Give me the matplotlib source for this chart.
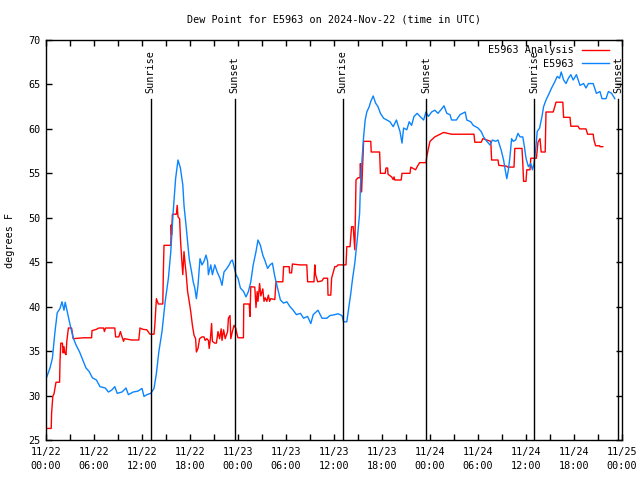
import matplotlib
matplotlib.use("Agg")
import matplotlib.pyplot as plt
from datetime import datetime, timedelta

# ---- data (hours since 2024-11-22 00:00 UTC, degrees F) ----
obs_hours = [0.1, 0.5, 0.8, 1.1, 1.4, 1.75, 2.0, 2.25, 2.4, 2.67, 2.9, 3.1, 3.4, 3.75, 4.2, 4.6,
             5.0, 5.4, 5.8, 6.3, 6.75, 7.4, 7.8, 8.2, 8.6, 8.9, 9.5, 10.0, 10.3, 10.9, 11.5, 12.0,
             12.25, 12.6, 13.1, 13.5, 13.8, 14.1, 14.5, 14.9, 15.3, 15.6, 15.9, 16.2, 16.5, 16.8,
             17.1, 17.25, 17.5, 17.7, 17.9, 18.2, 18.4, 18.6, 18.8, 19.0, 19.25, 19.5, 19.75, 20.0,
             20.2, 20.3, 20.6, 20.8, 21.1, 21.4, 21.75, 22.0, 22.25, 22.6, 22.9, 23.1, 23.3, 23.5,
             23.75, 24.0, 24.3, 24.7, 25.0, 25.3, 25.6, 25.9, 26.25, 26.5, 26.8, 27.1, 27.4, 27.7,
             28.0, 28.3, 28.6, 28.9, 29.3, 29.7, 30.1, 30.5, 30.9, 31.3, 31.8, 32.2, 32.7, 33.1,
             33.4, 34.0, 34.5, 35.1, 35.5, 36.1, 36.5, 37.0, 37.2, 37.6, 37.8, 38.1, 38.3, 38.6,
             38.9, 39.2, 39.3, 39.5, 39.7, 39.9, 40.1, 40.4, 40.6, 40.9, 41.2, 41.5, 41.8, 42.2,
             42.6, 43.0, 43.4, 43.8, 44.25, 44.5, 44.7, 45.1, 45.4, 45.7, 46.0, 46.4, 46.75, 47.2,
             47.5, 47.8, 48.2, 48.6, 49.0, 49.5, 49.75, 50.1, 50.5, 50.7, 51.3, 51.75, 52.4, 52.6,
             53.1, 53.4, 54.0, 54.4, 54.7, 55.1, 55.5, 55.8, 56.2, 56.5, 56.9, 57.2, 57.4, 57.6,
             57.8, 58.0, 58.2, 58.4, 58.7, 59.0, 59.25, 59.6, 59.8, 60.0, 60.3, 60.6, 60.8, 61.0,
             61.25, 61.4, 61.7, 62.0, 62.2, 62.5, 62.9, 63.2, 63.6, 63.9, 64.2, 64.4, 64.7, 65.0,
             65.3, 65.6, 65.9, 66.3, 66.75, 67.2, 67.5, 67.8, 68.4, 68.8, 69.25, 69.5, 70.0, 70.3,
             70.7, 71.1]
obs_values = [32.1, 33.1, 34.2, 37.0, 39.3, 39.8, 40.55, 39.6, 40.5, 39.4, 38.5, 37.6, 36.5, 35.7,
              34.9, 34.0, 33.1, 32.7, 32.0, 31.75, 31.0, 30.85, 30.4, 30.6, 31.0, 30.25, 30.4,
              30.85, 30.1, 30.4, 30.5, 30.8, 29.9, 30.1, 30.25, 30.8, 32.5, 34.9, 37.2, 40.6,
              43.2, 46.2, 50.7, 54.4, 56.5, 55.6, 53.7, 51.4, 49.2, 47.3, 45.4, 43.9, 42.8, 42.1,
              40.9, 42.4, 45.4, 44.7, 45.1, 45.8, 45.1, 43.6, 44.7, 43.6, 44.7, 43.9, 43.2, 42.4,
              43.9, 44.3, 44.7, 45.1, 45.25, 44.5, 43.6, 43.2, 42.1, 41.7, 41.1, 41.7, 42.8, 44.7,
              46.2, 47.5, 46.9, 45.8, 45.1, 44.3, 44.7, 44.9, 43.4, 42.25, 40.75, 40.4, 40.55,
              40.0, 39.6, 39.1, 39.25, 38.7, 38.9, 38.1, 39.1, 39.6, 38.7, 38.7, 39.0, 39.1, 39.2,
              39.0, 38.3, 38.3, 39.6, 41.5, 43.0, 44.9, 47.5, 50.5, 53.5, 56.5, 59.1, 61.0, 61.9,
              62.5, 63.1, 63.7, 62.9, 62.5, 61.75, 61.2, 61.0, 60.8, 60.25, 61.0, 59.7, 58.4,
              60.1, 59.9, 60.8, 60.4, 61.4, 61.75, 61.4, 61.0, 61.9, 61.4, 61.9, 62.1, 61.75,
              62.3, 62.6, 61.75, 61.6, 61.0, 61.0, 61.6, 61.9, 61.0, 60.8, 60.4, 60.1, 59.7,
              59.1, 58.6, 58.2, 58.75, 58.6, 58.75, 57.6, 56.5, 55.4, 54.4, 55.4, 56.9, 58.9,
              58.6, 58.75, 59.5, 59.1, 59.1, 58.0, 56.7, 55.75, 56.1, 55.4, 56.1, 58.0, 59.7,
              60.1, 61.4, 62.5, 63.25, 64.0, 64.6, 65.3, 65.9, 65.7, 66.4, 65.5, 65.1, 65.7,
              66.1, 65.5, 66.1, 64.9, 65.1, 64.6, 65.1, 65.1, 64.0, 64.2, 63.4, 63.4, 64.2, 64.0,
              63.4]

ana_hours = [0.0, 0.65, 0.7, 0.85, 1.0, 1.25, 1.7, 1.75, 1.85, 2.05, 2.15, 2.25, 2.35, 2.5, 2.6,
             2.8, 3.2, 3.4, 4.7, 5.7, 5.75, 6.3, 6.6, 7.2, 7.3, 7.45, 8.6, 8.7, 9.1, 9.3, 9.5,
             9.7, 9.8, 10.7, 11.6, 11.75, 12.1, 12.6, 13.0, 13.5, 13.6, 13.8, 14.04, 14.6, 14.67,
             14.75, 15.6, 15.65, 15.7, 15.8, 16.3, 16.4, 16.5, 16.7, 16.8, 16.96, 17.1, 17.25,
             17.4, 17.5, 17.7, 17.9, 18.1, 18.3, 18.5, 18.7, 18.8, 19.0, 19.2, 19.5, 19.75, 19.9,
             20.1, 20.3, 20.4, 20.55, 20.7, 20.8, 21.1, 21.3, 21.5, 21.7, 21.9, 22.0, 22.2, 22.4,
             22.7, 22.8, 23.0, 23.1, 23.3, 23.5, 23.7, 23.9, 24.0, 24.68, 24.72, 25.4, 25.5, 25.6,
             26.1, 26.25, 26.4, 26.5, 26.7, 26.85, 27.1, 27.25, 27.4, 27.6, 27.8, 27.95, 28.1,
             28.6, 28.75, 29.6, 29.7, 30.4, 30.45, 30.7, 30.8, 31.7, 32.6, 32.7, 33.5, 33.6, 33.7,
             33.96, 34.5, 34.7, 35.2, 35.25, 35.6, 35.7, 36.1, 36.3, 36.5, 37.5, 37.6, 38.0, 38.2,
             38.4, 38.5, 38.6, 38.75, 39.0, 39.25, 39.3, 39.45, 39.6, 39.7, 40.6, 40.65, 41.7,
             41.75, 41.8, 42.4, 42.5, 42.7, 42.75, 43.2, 43.4, 43.5, 43.6, 44.4, 44.5, 45.5, 45.6,
             46.2, 46.4, 46.7, 47.5, 47.6, 47.8, 48.0, 48.6, 49.7, 50.7, 53.5, 53.6, 54.4, 54.6,
             55.6, 55.7, 56.5, 56.6, 57.6, 57.7, 58.5, 58.6, 59.5, 59.6, 59.7, 60.0, 60.1, 60.5,
             60.6, 61.3, 61.4, 61.5, 61.75, 61.9, 62.4, 62.5, 63.4, 63.6, 63.75, 64.6, 64.7, 65.5,
             65.6, 66.5, 66.7, 67.5, 67.7, 68.4, 68.5, 68.7, 69.2, 69.25, 69.6]
ana_values = [26.3, 26.3, 28.0, 29.9, 30.2, 31.5, 31.5, 33.8, 35.9, 35.9, 34.8, 35.5, 34.8, 34.6,
              36.1, 37.6, 37.6, 36.4, 36.5, 36.5, 37.3, 37.45, 37.6, 37.6, 37.2, 37.6, 37.6,
              36.6, 36.6, 37.2, 36.6, 36.1, 36.4, 36.25, 36.25, 37.6, 37.45, 37.4, 36.9, 36.9,
              37.9, 40.9, 40.3, 40.3, 43.9, 46.9, 46.9, 49.2, 48.1, 50.4, 50.4, 51.4, 50.1, 49.9,
              47.7, 45.4, 43.6, 46.2, 44.7, 43.9, 41.7, 40.6, 39.4, 37.9, 36.8, 36.4, 34.9, 35.3,
              36.4, 36.6, 36.6, 36.2, 36.4, 36.2, 35.3, 36.4, 38.1, 36.1, 35.9, 35.9, 37.2, 36.4,
              37.5, 36.2, 37.4, 36.4, 37.2, 38.7, 39.0, 36.4, 37.2, 37.9, 37.6, 36.8, 36.5, 36.5,
              40.3, 40.3, 38.9, 42.25, 42.2, 39.9, 41.7, 40.6, 42.6, 41.2, 42.0, 40.6, 41.0, 40.6,
              41.3, 40.6, 40.9, 40.8, 42.8, 42.8, 44.5, 44.5, 43.8, 43.8, 44.8, 44.7, 44.7, 42.8,
              42.8, 44.7, 43.6, 42.8, 42.9, 43.2, 43.2, 41.3, 41.3, 43.2, 44.5, 44.5, 44.7, 44.7,
              46.75, 46.75, 49.0, 49.0, 47.7, 46.4, 54.25, 54.5, 54.5, 56.1, 52.9, 56.3, 58.6,
              58.6, 57.4, 57.4, 56.3, 55.0, 55.0, 55.6, 55.6, 54.9, 54.6, 54.3, 54.6, 54.25,
              54.25, 55.0, 55.0, 55.7, 55.4, 55.75, 56.2, 56.2, 56.9, 57.8, 58.6, 59.1, 59.6,
              59.4, 59.4, 58.5, 58.5, 58.9, 58.6, 56.5, 56.5, 55.9, 55.8, 55.7, 55.7, 57.8, 57.8,
              56.1, 54.1, 54.1, 55.4, 55.4, 56.7, 56.7, 57.6, 58.5, 58.9, 57.4, 57.4, 61.9, 61.9,
              62.5, 63.0, 63.0, 61.3, 61.3, 60.3, 60.3, 60.0, 60.0, 59.4, 59.4, 58.75, 58.1,
              58.1, 58.0, 58.0]

sun_events = ["Sunrise", "Sunset", "Sunrise", "Sunset", "Sunrise", "Sunset"]
sun_hours = [13.1, 23.6, 37.1, 47.5, 61.0, 71.5]

series_labels = ["E5963 Analysis", "E5963"]
title = "Dew Point for E5963 on 2024-Nov-22 (time in UTC)"
ylabel = "degrees F"
start = datetime(2024, 11, 22, 0, 0)

# ---- figure ----
FONT = "DejaVu Sans Mono"
FS = 7.3
plt.rcParams["font.family"] = FONT
plt.rcParams["font.size"] = FS

fig = plt.figure(figsize=(6.4, 4.8), dpi=100)
ax = fig.add_axes([46 / 640, 40 / 480, 576 / 640, 400 / 480])

ax.plot(ana_hours, ana_values, color="#ff0000", lw=1.0, label=series_labels[0])
ax.plot(obs_hours, obs_values, color="#0a84ff", lw=1.0, label=series_labels[1])

for h, name in zip(sun_hours, sun_events):
    ax.axvline(h, ymin=0, ymax=0.853, color="black", lw=1.0)
    ax.text(h, 0.8675, name, transform=ax.get_xaxis_transform(), rotation=90,
            ha="center", va="bottom", fontsize=FS)

ax.set_xlim(0, 72)
ax.set_ylim(25, 70)
xt = list(range(0, 73, 3))
ax.set_xticks(xt)
ax.set_xticklabels([(start + timedelta(hours=h)).strftime("%m/%d\n%H:%M") if h % 6 == 0 else ""
                    for h in xt], linespacing=1.45)
ax.set_yticks(range(25, 71, 5))
ax.tick_params(direction="in", length=4, width=1, top=True, right=True, labelsize=FS)
ax.tick_params(axis="x", pad=5)
ax.tick_params(axis="y", pad=4)
for s in ax.spines.values():
    s.set_linewidth(1)
    s.set_color("black")

leg = ax.legend(loc="upper right", bbox_to_anchor=(0.9844, 0.9975), frameon=False,
                markerfirst=False, handlelength=2.7, handletextpad=0.8, labelspacing=0.35,
                borderaxespad=0.0, fontsize=FS)

fig.text((46 + 288) / 640, 1 - 19 / 480, title, ha="center", va="center", fontsize=FS)
fig.text(10 / 640, 0.5, ylabel, rotation=90, ha="center", va="center", fontsize=FS)

fig.savefig("out.png", dpi=100)
